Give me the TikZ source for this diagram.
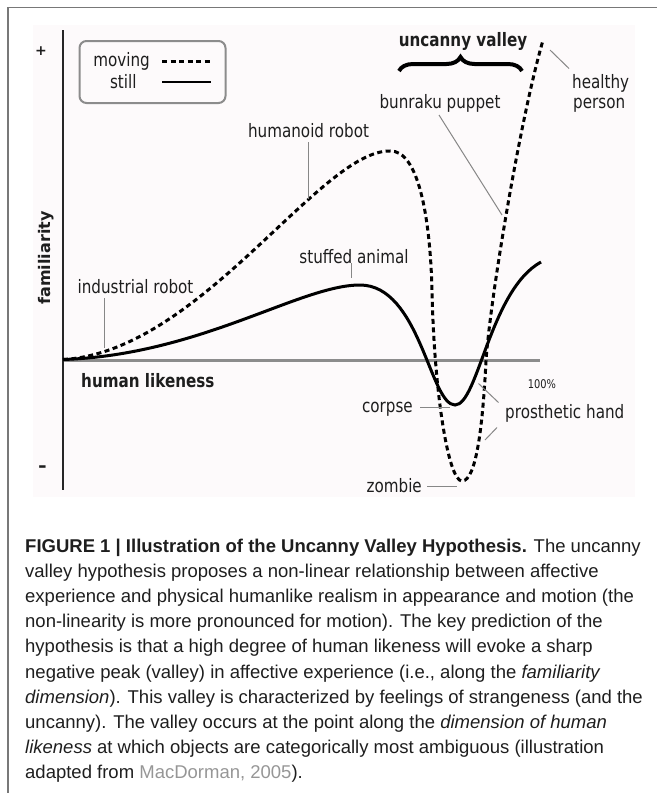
\documentclass[tikz,border=0pt]{standalone}
\usepackage{fontspec}
\setmainfont{DejaVu Sans}
\newfontfamily\plotfont[FakeStretch=0.82]{DejaVu Sans}
\newfontfamily\capfont{Liberation Sans}
\usetikzlibrary{decorations.pathreplacing}
\definecolor{plotbg}{RGB}{253,250,251}
\definecolor{framegray}{RGB}{120,120,120}
\definecolor{leadgray}{RGB}{135,135,135}
\definecolor{axisgray}{RGB}{140,140,140}
\definecolor{txt}{RGB}{30,30,30}
\definecolor{citegray}{RGB}{150,150,150}
\begin{document}
\begin{tikzpicture}[x=1pt,y=-1pt,
  lbl/.style={font=\plotfont\fontsize{18.5}{22}\selectfont, text=txt, inner sep=0pt, anchor=base},
  boldlbl/.style={font=\plotfont\bfseries\fontsize{18.5}{22}\selectfont, text=txt, inner sep=0pt, anchor=base},
  leader/.style={draw=leadgray, line width=1pt},
  dashcurve/.style={line width=3pt, dash pattern=on 5pt off 3.5pt},
  solidcurve/.style={line width=3pt},
  capline/.style={font=\capfont\fontsize{18.5}{25.2}\selectfont, text=txt, inner sep=0pt, anchor=base west}
]
\useasboundingbox (0,0) rectangle (657,793);
% frame
\coordinate (f1) at (8,793);
\coordinate (f2) at (8,7.5);
\coordinate (f3) at (657,7.5);
\draw[framegray, line width=1.5pt] (f1) -- (f2) -- (f3);
% plot background
\fill[plotbg] (33,25) rectangle (635,497);
% axes
\coordinate (ytop) at (63,30);
\coordinate (ybot) at (63,490);
\coordinate (o) at (63,359.5);
\coordinate (xend) at (540,360.5);
\coordinate (xstart) at (63,360.5);
\draw[axisgray, line width=2.5pt] (xstart) -- (xend);
\draw[black!85, line width=2.5pt] (ytop) -- (ybot);
\node[font=\bfseries\fontsize{14}{16}\selectfont, text=txt, inner sep=0pt] (plus) at (41,51.5) {+};
\node[font=\plotfont\bfseries\fontsize{20}{22}\selectfont, text=txt, inner sep=0pt] (minus) at (42.5,469) {–};
\node[font=\bfseries\fontsize{16}{18}\selectfont, text=txt, inner sep=0pt, rotate=90] (fam) at (46,258) {familiarity};
\node[boldlbl, anchor=base west] (hl) at (81,387) {human likeness};
\node[font=\plotfont\fontsize{12}{14}\selectfont, text=txt, inner sep=0pt, anchor=base] (pct) at (542,388) {100\%};
% legend
\node[draw=axisgray, line width=2pt, rounded corners=7pt, minimum width=146pt, minimum height=62pt, inner sep=0pt] (legend) at (152.5,72) {};
\node[lbl] (mv) at (121.5,66) {moving};
\node[lbl] (st) at (123.3,88.3) {still};
\coordinate (ld1) at (162,61.7);
\coordinate (ld2) at (212,61.7);
\coordinate (ls1) at (162,81.7);
\coordinate (ls2) at (211,81.7);
\draw[line width=3pt, dash pattern=on 5pt off 3.5pt] (ld1) -- (ld2);
\draw[line width=1.8pt] (ls1) -- (ls2);
% uncanny valley
\node[boldlbl] (uv) at (463,46) {uncanny valley};
\coordinate (br1) at (399,71);
\coordinate (br2) at (522,71);
\draw[line width=4pt, decorate, decoration={brace, amplitude=14pt}] (br1) -- (br2);
% curves
\draw[dashcurve] (o) .. controls (200,352) and (320,150) .. (390,151)
  .. controls (418,150) and (430,215) .. (432,290)
  .. controls (434,390) and (448,481) .. (462,481)
  .. controls (477,481) and (483,420) .. (486,361)
  .. controls (490,300) and (520,120) .. (542.5,42);
\draw[solidcurve] (o) .. controls (200,355) and (300,285) .. (360,285)
  .. controls (420,285) and (430,405) .. (455,405)
  .. controls (478,405) and (490,290) .. (541,262);
% labels
\node[lbl] (hr) at (308.5,137.5) {humanoid robot};
\coordinate (hr1) at (308.5,142);
\coordinate (hr2) at (308.5,199);
\draw[leader] (hr1) -- (hr2);
\node[lbl] (sa) at (354,263) {stuffed animal};
\coordinate (sa1) at (351,263);
\coordinate (sa2) at (351,278);
\draw[leader] (sa1) -- (sa2);
\node[lbl] (ir) at (135.5,293) {industrial robot};
\coordinate (ir1) at (104.7,298);
\coordinate (ir2) at (104.7,348);
\draw[leader] (ir1) -- (ir2);
\node[lbl] (bp) at (440,108) {bunraku puppet};
\coordinate (bp1) at (439,115);
\coordinate (bp2) at (502,215);
\draw[leader] (bp1) -- (bp2);
\node[lbl, anchor=base west] (hy) at (572,88) {healthy};
\node[lbl, anchor=base west] (pe) at (573,108.5) {person};
\coordinate (hp1) at (550,50);
\coordinate (hp2) at (569,68.5);
\draw[leader] (hp1) -- (hp2);
\node[lbl, anchor=base east] (co) at (413,412.5) {corpse};
\coordinate (co1) at (420,407);
\coordinate (co2) at (450,407);
\draw[leader] (co1) -- (co2);
\node[lbl, anchor=base west] (ph) at (505,418) {prosthetic hand};
\coordinate (ph1) at (478.5,383.5);
\coordinate (ph2) at (498.5,402.5);
\coordinate (ph3) at (497,427.5);
\coordinate (ph4) at (485,440);
\draw[leader] (ph1) -- (ph2);
\draw[leader] (ph3) -- (ph4);
\node[lbl, anchor=base east] (zo) at (422,492) {zombie};
\coordinate (zo1) at (427,486.5);
\coordinate (zo2) at (457,486.5);
\draw[leader] (zo1) -- (zo2);
% caption
\node[capline] (c1) at (25,552) {\textbf{FIGURE 1 | Illustration of the Uncanny Valley Hypothesis.} The uncanny};
\node[capline] (c2) at (25,577.2) {valley hypothesis proposes a non-linear relationship between affective};
\node[capline] (c3) at (25,602.4) {experience and physical humanlike realism in appearance and motion (the};
\node[capline] (c4) at (25,627.6) {non-linearity is more pronounced for motion). The key prediction of the};
\node[capline] (c5) at (25,652.8) {hypothesis is that a high degree of human likeness will evoke a sharp};
\node[capline] (c6) at (25,678) {negative peak (valley) in affective experience (i.e., along the \textit{familiarity}};
\node[capline] (c7) at (25,703.2) {\textit{dimension}). This valley is characterized by feelings of strangeness (and the};
\node[capline] (c8) at (25,728.4) {uncanny). The valley occurs at the point along the \textit{dimension of human}};
\node[capline] (c9) at (25,753.6) {\textit{likeness} at which objects are categorically most ambiguous (illustration};
\node[capline] (c10) at (25,778.8) {adapted from {\color{citegray}MacDorman, 2005}).};
\end{tikzpicture}
\end{document}
